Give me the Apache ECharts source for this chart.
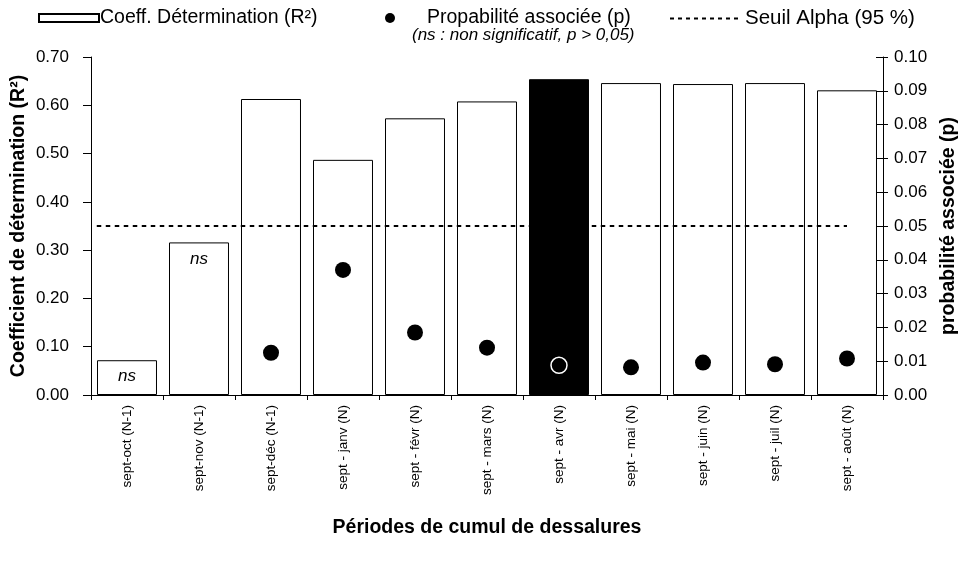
<!DOCTYPE html>
<html>
<head>
<meta charset="utf-8">
<script src="https://cdn.jsdelivr.net/npm/echarts@6/dist/echarts.min.js"></script>
<style>
  html, body { margin: 0; padding: 0; background: #fff; }
  #chart { width: 962px; height: 562px; }
</style>
</head>
<body>
<div id="chart"></div>
<script>
// Cumulative desalination periods
const periods = [
  'sept-oct (N-1)', 'sept-nov (N-1)', 'sept-déc (N-1)', 'sept - janv (N)',
  'sept - févr (N)', 'sept - mars (N)', 'sept - avr (N)', 'sept - mai (N)',
  'sept - juin (N)', 'sept - juil (N)', 'sept - août (N)'
];
// Coefficient of determination (R²) per period
const r2Values = [0.072, 0.316, 0.613, 0.487, 0.573, 0.608, 0.654, 0.646, 0.644, 0.646, 0.631];
// Associated probability p (null = not significant)
const pValues = [null, null, 0.0125, 0.037, 0.0185, 0.014, 0.0088, 0.0082, 0.0096, 0.0091, 0.0108];
// Period of best fit (highlighted)
const bestPeriod = 'sept - avr (N)';
// Alpha threshold (95 %) and its extent along the category axis
const alphaThreshold = 0.05;
const alphaSpan = [0.08, 10.5];
// Axis tick settings
const r2Ticks = { min: 0, max: 0.7, interval: 0.1 };
const pTicks = { min: 0, max: 0.1, interval: 0.01 };

const FONT = '"Liberation Sans", Arial, sans-serif';

// short dashes used as the legend icon of the threshold line
const dottedIcon = 'path://' + Array.from({ length: 9 }, (_, k) => `M${k * 8},0h4v2h-4z`).join('');

const barData = r2Values.map((v, i) => {
  const best = periods[i] === bestPeriod;
  return {
    value: v,
    itemStyle: best ? { color: '#000', borderColor: '#000' } : undefined,
    label: { show: pValues[i] === null }
  };
});

const pointData = pValues.map((v, i) => {
  if (v === null) return null;
  const best = periods[i] === bestPeriod;
  return {
    value: v,
    itemStyle: best ? { color: 'rgba(0,0,0,0)', borderColor: '#fff', borderWidth: 1.5 } : undefined
  };
});

const legendText = { fontFamily: FONT, fontSize: 19.5, color: '#000' };

const chart = echarts.init(document.getElementById('chart'), null, { renderer: 'canvas' });

chart.setOption({
  animation: false,
  backgroundColor: '#fff',
  textStyle: { fontFamily: FONT, color: '#000' },
  grid: { left: 91, right: 79, top: 57, bottom: 167, containLabel: false, outerBoundsMode: 'none' },
  legend: [
    {
      data: [{ name: 'Coeff. Détermination (R²)', icon: 'rect' }],
      left: 33, top: 3, selectedMode: false,
      itemWidth: 60, itemHeight: 8,
      textStyle: Object.assign({}, legendText, { padding: [0, 0, 0, -4] })
    },
    {
      data: [{ name: 'Propabilité associée (p)', icon: 'circle' }],
      left: 380, top: 3, selectedMode: false,
      itemWidth: 10, itemHeight: 10,
      textStyle: Object.assign({}, legendText, { padding: [0, 0, 0, 27] })
    },
    {
      data: [{ name: 'Seuil Alpha (95 %)', icon: dottedIcon }],
      left: 665, top: 3, selectedMode: false,
      itemWidth: 68, itemHeight: 2.5,
      itemStyle: { color: '#000', borderWidth: 0 },
      textStyle: { fontFamily: FONT, fontSize: 20.5, color: '#000', padding: [0, 0, 0, 2] }
    }
  ],
  graphic: [
    {
      type: 'text', left: 412, top: 27,
      style: {
        text: '(ns : non significatif, p > 0,05)',
        font: 'italic 17px ' + FONT, fill: '#000'
      }
    }
  ],
  xAxis: [
    {
      type: 'category',
      data: periods,
      boundaryGap: true,
      axisLine: { lineStyle: { color: '#000', width: 1 } },
      axisTick: { show: true, interval: 0, length: 5, lineStyle: { color: '#000' } },
      axisLabel: {
        interval: 0, rotate: 90, margin: 10,
        fontFamily: FONT, fontSize: 13.5, color: '#000'
      },
      name: 'Périodes de cumul de dessalures',
      nameLocation: 'middle',
      nameGap: 123,
      nameMoveOverlap: false,
      nameTextStyle: { fontFamily: FONT, fontSize: 19.5, fontWeight: 'bold', color: '#000' }
    },
    {
      type: 'value', min: 0, max: periods.length, show: false
    }
  ],
  yAxis: [
    {
      type: 'value', position: 'left',
      min: r2Ticks.min, max: r2Ticks.max, interval: r2Ticks.interval,
      axisLine: { show: true, lineStyle: { color: '#000' } },
      axisTick: { show: true, length: 8, lineStyle: { color: '#000' } },
      axisLabel: {
        margin: 22, fontFamily: FONT, fontSize: 17, color: '#000',
        formatter: v => v.toFixed(2)
      },
      splitLine: { show: false },
      name: 'Coefficient de détermination (R²)',
      nameLocation: 'middle', nameGap: 62, nameRotate: 90,
      nameMoveOverlap: false,
      nameTextStyle: { fontFamily: FONT, fontSize: 19.5, fontWeight: 'bold', color: '#000' }
    },
    {
      type: 'value', position: 'right',
      min: pTicks.min, max: pTicks.max, interval: pTicks.interval,
      axisLine: { show: true, lineStyle: { color: '#000' } },
      axisTick: { show: true, length: 5, lineStyle: { color: '#000' } },
      axisLabel: {
        margin: 11, fontFamily: FONT, fontSize: 17, color: '#000',
        formatter: v => v.toFixed(2)
      },
      splitLine: { show: false },
      name: 'probabilité associée (p)',
      nameLocation: 'middle', nameGap: 56, nameRotate: 90,
      nameMoveOverlap: false,
      nameTextStyle: { fontFamily: FONT, fontSize: 19.5, fontWeight: 'bold', color: '#000' }
    },
    {
      // inner half of the crossing ticks on the right axis
      type: 'value', position: 'right',
      min: pTicks.min, max: pTicks.max, interval: pTicks.interval,
      axisLine: { show: false },
      axisTick: { show: true, inside: true, length: 7, lineStyle: { color: '#000' } },
      axisLabel: { show: false },
      splitLine: { show: false }
    }
  ],
  series: [
    {
      name: 'Coeff. Détermination (R²)',
      type: 'bar',
      xAxisIndex: 0, yAxisIndex: 0,
      barCategoryGap: '16.7%',
      data: barData,
      itemStyle: { color: '#fff', borderColor: '#000', borderWidth: 1 },
      label: {
        show: false, position: 'insideTop', distance: 8,
        formatter: 'ns',
        fontFamily: FONT, fontSize: 17, fontStyle: 'italic', color: '#000'
      },
      z: 1
    },
    {
      name: 'Propabilité associée (p)',
      type: 'scatter',
      xAxisIndex: 0, yAxisIndex: 1,
      symbol: 'circle', symbolSize: 16,
      itemStyle: { color: '#000', opacity: 1 },
      data: pointData,
      z: 3
    },
    {
      name: 'Seuil Alpha (95 %)',
      type: 'line',
      xAxisIndex: 1, yAxisIndex: 1,
      symbol: 'none',
      lineStyle: { type: [4.5, 4.5], width: 2, color: '#000' },
      itemStyle: { color: '#000' },
      data: alphaSpan.map(x => [x, alphaThreshold]),
      z: 2
    }
  ]
});
</script>
</body>
</html>
